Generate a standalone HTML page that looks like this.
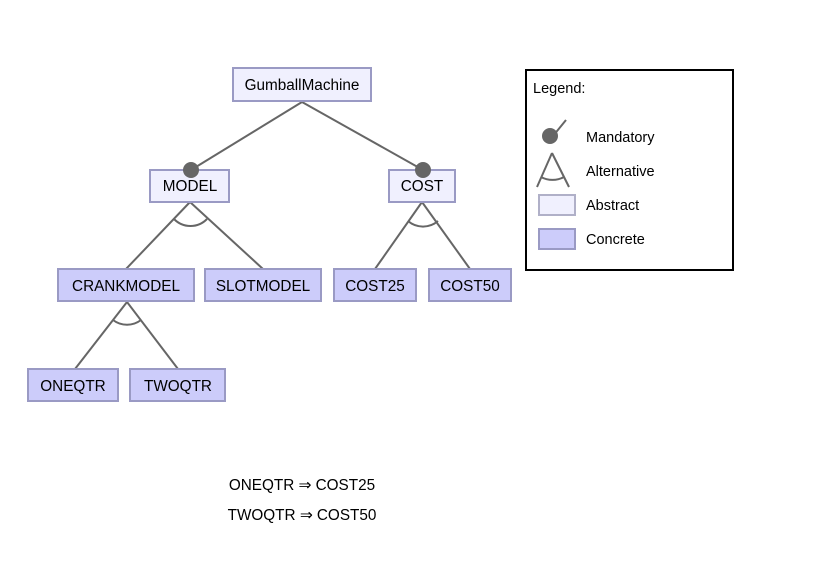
<!DOCTYPE html>
<html><head><style>body{margin:0;background:#fff}svg{display:block}</style></head><body>
<svg width="814" height="564" xmlns="http://www.w3.org/2000/svg" font-family="Liberation Sans, Arial, sans-serif" font-size="15.3">
<g stroke="#666" stroke-width="2" fill="none">
<line x1="302" y1="102" x2="191" y2="170"/>
<line x1="302" y1="102" x2="423" y2="170"/>
<line x1="190" y1="202" x2="126" y2="269"/>
<line x1="190" y1="202" x2="263" y2="269"/>
<line x1="422" y1="202" x2="375" y2="269"/>
<line x1="422" y1="202" x2="470" y2="269"/>
<line x1="127" y1="302" x2="75" y2="369"/>
<line x1="127" y1="302" x2="178" y2="369"/>
<path d="M174,219 A23,23 0 0 0 207,219"/>
<path d="M408,221 A23,23 0 0 0 438,221"/>
<path d="M113,320 A23,23 0 0 0 141,320"/>
</g>
<g stroke="#9a9ac4" stroke-width="2">
<rect x="233" y="68" width="138" height="33" fill="#f0f0fe"/>
<rect x="150" y="170" width="79" height="32" fill="#f0f0fe"/>
<rect x="389" y="170" width="66" height="32" fill="#f0f0fe"/>
<rect x="58" y="269" width="136" height="32" fill="#ccccfa"/>
<rect x="205" y="269" width="116" height="32" fill="#ccccfa"/>
<rect x="334" y="269" width="82" height="32" fill="#ccccfa"/>
<rect x="429" y="269" width="82" height="32" fill="#ccccfa"/>
<rect x="28" y="369" width="90" height="32" fill="#ccccfa"/>
<rect x="130" y="369" width="95" height="32" fill="#ccccfa"/>
</g>
<circle cx="191" cy="170" r="8" fill="#666"/>
<circle cx="423" cy="170" r="8" fill="#666"/>
<g fill="#000" text-anchor="middle">
<text x="302" y="90">GumballMachine</text>
<text x="190" y="191">MODEL</text>
<text x="422" y="191">COST</text>
<text x="126" y="291">CRANKMODEL</text>
<text x="263" y="291">SLOTMODEL</text>
<text x="375" y="291">COST25</text>
<text x="470" y="291">COST50</text>
<text x="73" y="391">ONEQTR</text>
<text x="178" y="391">TWOQTR</text>
<text x="302" y="490">ONEQTR ⇒ COST25</text>
<text x="302" y="520">TWOQTR ⇒ COST50</text>
</g>
<rect x="526" y="70" width="207" height="200" fill="#fff" stroke="#000" stroke-width="2"/>
<g fill="#000" font-size="14.5">
<text x="533" y="93">Legend:</text>
<text x="586" y="142">Mandatory</text>
<text x="586" y="176">Alternative</text>
<text x="586" y="210">Abstract</text>
<text x="586" y="244">Concrete</text>
</g>
<line x1="553" y1="136" x2="566" y2="120" stroke="#666" stroke-width="2"/>
<circle cx="550" cy="136" r="8" fill="#666"/>
<g stroke="#666" stroke-width="2" fill="none">
<line x1="552" y1="153" x2="537" y2="187"/>
<line x1="552" y1="153" x2="569" y2="187"/>
<path d="M541,177 A24,24 0 0 0 564,177"/>
</g>
<rect x="539" y="195" width="36" height="20" fill="#f0f0fe" stroke="#b0b0c8" stroke-width="2"/>
<rect x="539" y="229" width="36" height="20" fill="#ccccfa" stroke="#9a9ac4" stroke-width="2"/>
</svg>
</body></html>
